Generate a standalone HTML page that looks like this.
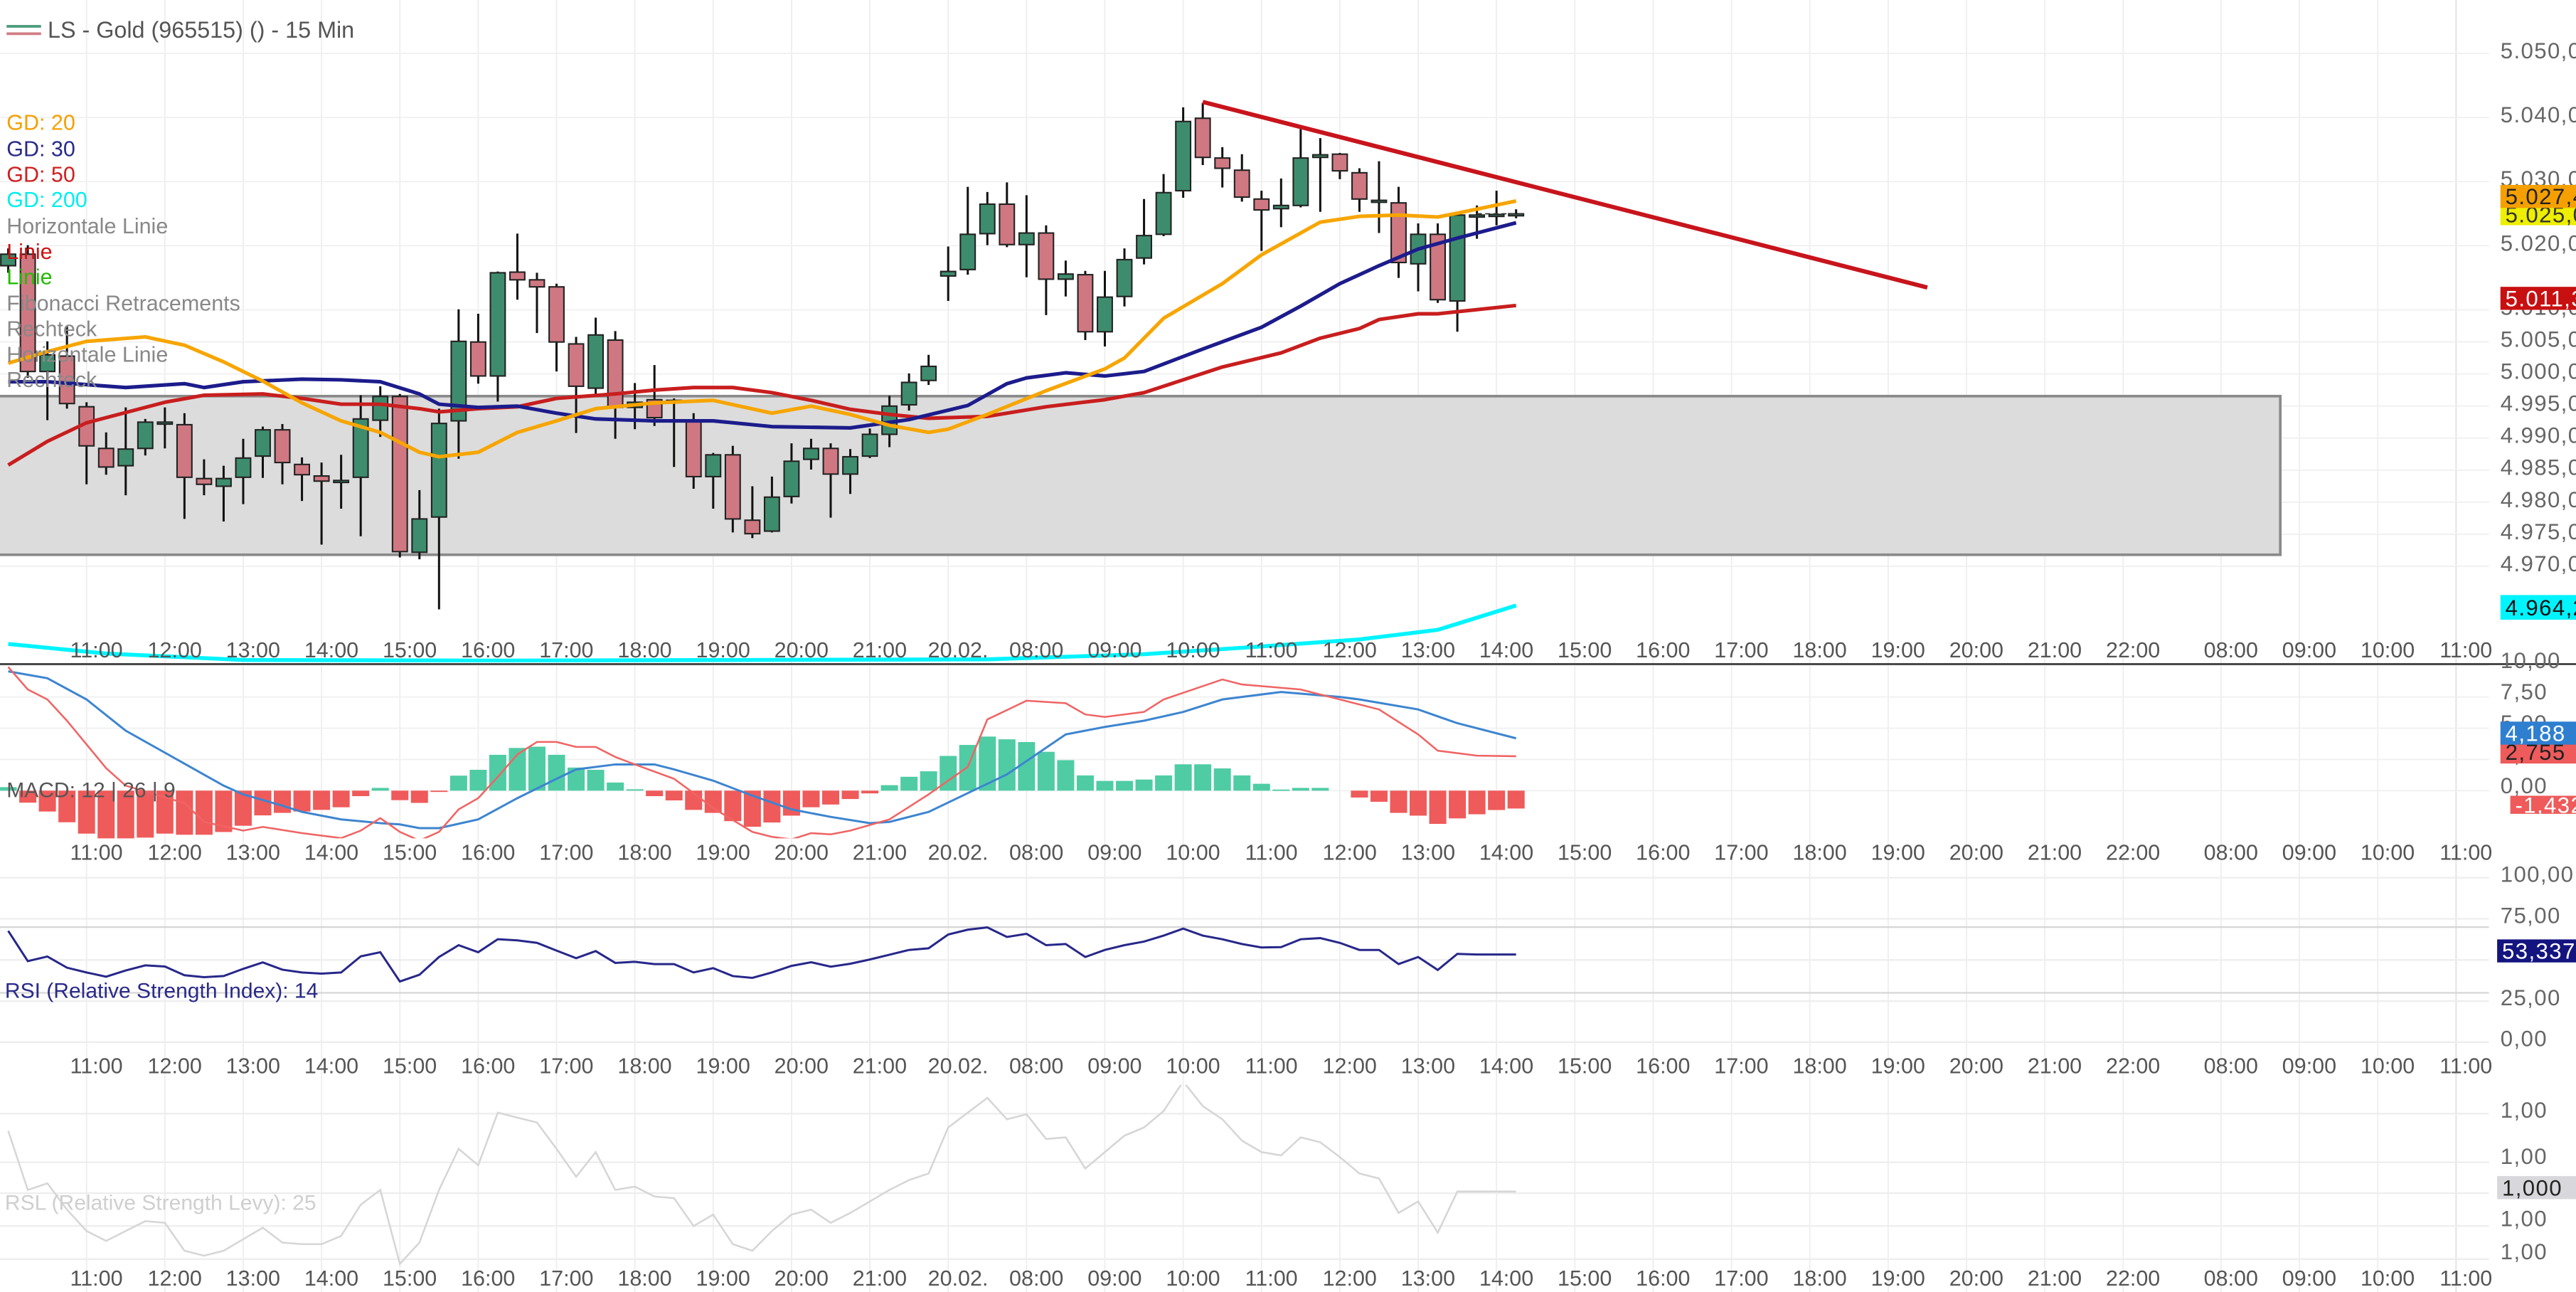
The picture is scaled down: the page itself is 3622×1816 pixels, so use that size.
<!DOCTYPE html>
<html><head><meta charset="utf-8"><title>LS - Gold 15 Min</title>
<style>
html,body{margin:0;padding:0;background:#fff;}
svg{display:block;font-family:"Liberation Sans",Arial,sans-serif;}
</style></head>
<body>
<svg id="chart" xmlns="http://www.w3.org/2000/svg" width="3622" height="1816" viewBox="0 0 1568 786" preserveAspectRatio="none">
  <defs>
    <clipPath id="clipMain"><rect x="0" y="0" width="1512" height="403"/></clipPath>
    <clipPath id="clipMacd"><rect x="0" y="405" width="1512" height="105"/></clipPath>
    <clipPath id="clipRsi"><rect x="0" y="528" width="1512" height="110"/></clipPath>
    <clipPath id="clipRsl"><rect x="0" y="660" width="1512" height="110"/></clipPath>
  </defs>
  <rect x="0" y="0" width="1568" height="786" fill="#ffffff"/>
  <g id="grid"></g>
  <g id="mainPanel" clip-path="url(#clipMain)">
    <rect x="-2" y="241" width="1390" height="96.5" fill="#dcdcdc" stroke="#8a8a8a" stroke-width="1.6"/>
  </g>
  <g id="macdPanel" clip-path="url(#clipMacd)"></g>
  <g id="rsiPanel" clip-path="url(#clipRsi)"></g>
  <g id="rslPanel" clip-path="url(#clipRsl)"></g>
  <line x1="0" y1="404" x2="1568" y2="404" stroke="#222" stroke-width="1"/>
  <g id="axes"></g>

  <g>
    <line x1="4" y1="16" x2="25" y2="16" stroke="#4a9a7a" stroke-width="1.6"/>
    <line x1="4" y1="20.5" x2="25" y2="20.5" stroke="#d07c84" stroke-width="1.6"/>
    <text x="29" y="23" font-size="14" fill="#555">LS - Gold (965515) () - 15 Min</text>
  </g>
  <g font-size="13.2">
    <text x="4" y="79" fill="#f5a000">GD: 20</text>
    <text x="4" y="95" fill="#2a2a8a">GD: 30</text>
    <text x="4" y="110.5" fill="#d02020">GD: 50</text>
    <text x="4" y="126" fill="#00eeee">GD: 200</text>
    <text x="4" y="142" fill="#888">Horizontale Linie</text>
    <text x="4" y="157.5" fill="#cc1111">Linie</text>
    <text x="4" y="173" fill="#22bb00">Linie</text>
    <text x="4" y="189" fill="#888">Fibonacci Retracements</text>
    <text x="4" y="204.5" fill="#888">Rechteck</text>
    <text x="4" y="220" fill="#888">Horizontale Linie</text>
    <text x="4" y="235.5" fill="#888">Rechteck</text>
  </g>
  <text x="4" y="485" font-size="13" fill="#555">MACD: 12 | 26 | 9</text>
  <text x="3" y="607" font-size="13" fill="#2a2a8a">RSI (Relative Strength Index): 14</text>
  <text x="3" y="736" font-size="13" fill="#cfcfcf">RSL (Relative Strength Levy): 25</text>
</svg>
<script>
// ---------- data ----------
const opens = [5016.5,5018.3,5000.0,5002.4,4994.5,4988.0,4985.3,4988.0,4992.1,4991.7,4983.3,4982.1,4983.5,4986.8,4990.9,4985.5,4983.7,4983.0,4983.5,4992.4,4996.1,4971.8,4977.3,4992.3,5004.6,4999.3,5015.5,5014.3,5013.2,5004.3,4997.4,5004.9,4994.4,4995.6,4995.5,4992.3,4983.6,4987.0,4976.8,4975.1,4980.5,4986.3,4988.0,4984.0,4986.8,4990.2,4994.8,4998.6,5014.9,5015.9,5021.5,5026.1,5019.8,5021.6,5014.4,5015.1,5006.2,5011.7,5017.7,5021.4,5028.2,5039.5,5033.3,5031.4,5026.9,5025.4,5025.9,5033.4,5033.9,5031.0,5026.7,5026.3,5016.8,5021.4,5011.0,5024.4,5024.5,5024.6];
const highs = [5019.2,5019.7,5004.7,5007.0,4995.2,4990.5,4994.4,4992.6,4994.4,4993.5,4986.3,4985.3,4989.5,4991.4,4991.8,4986.6,4985.8,4987.0,4996.3,4997.7,4996.5,4981.5,4994.2,5009.7,5009.0,5015.6,5021.5,5015.4,5013.7,5005.4,5008.4,5006.3,4998.2,5001.0,4995.8,4993.5,4987.3,4988.4,4982.1,4983.6,4988.8,4989.5,4988.8,4987.9,4991.1,4996.2,4999.7,5002.6,5019.5,5028.8,5028.0,5029.5,5027.5,5022.8,5017.3,5015.7,5015.7,5019.2,5026.9,5030.8,5041.2,5041.9,5035.0,5033.9,5028.2,5030.1,5037.8,5036.4,5034.1,5031.7,5032.8,5028.8,5023.1,5023.1,5024.4,5025.9,5028.2,5025.3];
const lows = [5015.4,4999.0,4992.4,4994.2,4982.4,4983.9,4980.7,4986.9,4988.0,4977.0,4980.7,4976.6,4979.3,4983.4,4982.4,4979.8,4973.0,4978.6,4974.3,4989.8,4971.0,4970.7,4962.9,4986.4,4998.1,4995.3,5011.2,5006.0,5000.0,4990.4,4996.5,4989.5,4991.0,4991.5,4985.1,4981.7,4978.6,4974.9,4974.0,4974.9,4979.4,4984.7,4977.2,4980.9,4986.5,4988.2,4993.9,4997.9,5011.0,5015.1,5019.7,5019.4,5014.7,5008.8,5011.7,5004.9,5003.9,5010.15,5016.7,5021.1,5027.1,5032.2,5028.7,5026.5,5018.8,5022.5,5025.6,5024.9,5030.0,5024.9,5021.6,5014.6,5012.5,5010.7,5006.2,5020.7,5022.8,5023.9];
const closes = [5018.3,5000.0,5002.6,4995.0,4988.4,4985.1,4987.9,4992.1,4992.1,4983.5,4982.4,4983.3,4986.5,4990.9,4985.8,4983.9,4982.9,4983.0,4992.6,4996.1,4971.9,4977.0,4991.9,5004.7,4999.3,5015.4,5014.3,5013.2,5004.6,4997.7,5005.7,4994.4,4995.2,4992.8,4995.5,4983.6,4987.0,4977.0,4974.7,4980.4,4986.0,4988.0,4984.0,4986.7,4990.2,4994.6,4998.3,5000.8,5015.6,5021.4,5026.1,5019.8,5021.6,5014.4,5015.2,5006.2,5011.6,5017.45,5021.2,5027.9,5039.0,5033.4,5031.7,5027.2,5025.2,5025.9,5033.3,5033.8,5031.3,5026.9,5026.7,5017.0,5021.4,5011.2,5024.4,5024.4,5024.5,5024.6];

const ma20Idx = [0,2,4,7,9,11,13,15,17,19,21,22,24,26,28,30,33,36,39,41,43,45,47,48,50,53,56,57,59,62,64,67,69,71,73,74,77];
const ma20 = [5001.3,5003.1,5004.7,5005.4,5004.1,5001.5,4998.5,4995.1,4992.3,4990.5,4987.4,4986.7,4987.4,4990.5,4992.3,4994.2,4995.1,4995.5,4993.5,4994.6,4993.3,4991.6,4990.5,4991.0,4993.3,4997.0,5000.4,5002.1,5008.3,5013.7,5018.2,5023.3,5024.2,5024.4,5024.1,5024.7,5026.6];
const ma30Idx = [0,2,6,9,10,12,15,17,19,21,22,24,26,28,30,33,36,39,43,46,49,51,52,54,56,58,61,64,66,68,70,72,74,77];
const ma30 = [4998.4,4998.4,4997.5,4998.1,4997.5,4998.4,4998.8,4998.7,4998.4,4996.5,4994.9,4994.4,4994.6,4993.5,4992.6,4992.3,4992.3,4991.4,4991.2,4992.5,4994.7,4998.1,4999.0,4999.8,4999.3,5000.0,5003.5,5006.9,5010.2,5013.7,5016.5,5019.1,5020.8,5023.2];
const ma50Idx = [0,2,4,6,8,10,13,15,17,19,21,22,24,26,28,31,33,35,37,39,41,43,45,47,50,53,56,58,60,62,65,67,69,70,72,73,77];
const ma50 = [4985.4,4989.1,4992.0,4993.6,4995.2,4996.3,4996.5,4995.8,4994.9,4994.9,4994.2,4993.7,4994.2,4994.5,4995.8,4996.5,4997.1,4997.5,4997.5,4996.7,4995.5,4994.1,4993.3,4992.7,4993.0,4994.5,4995.6,4996.7,4998.7,5000.7,5002.9,5005.2,5006.7,5008.1,5009.0,5009.0,5010.3];
const ma200Idx = [0,5,12,25,50,58,63,69,73,77];
const ma200 = [4957.5,4956.0,4955.0,4954.9,4955.1,4955.9,4956.9,4958.2,4959.7,4963.5];
const trendIdx = [61,98];
const trendPrice = [5042.05,5013.1];

const macdHist = [0.28,-0.96,-1.67,-2.53,-3.44,-4.11,-4.22,-3.76,-3.44,-3.53,-3.53,-3.31,-2.81,-1.98,-1.78,-1.67,-1.54,-1.33,-0.44,0.22,-0.76,-0.98,-0.09,1.20,1.67,2.87,3.42,3.52,2.87,1.85,1.67,0.65,0.11,-0.44,-0.78,-1.54,-1.78,-2.44,-2.89,-2.55,-2.00,-1.33,-1.11,-0.67,-0.22,0.44,1.11,1.55,2.78,3.66,4.33,4.11,3.89,3.11,2.44,1.22,0.78,0.78,0.89,1.22,2.11,2.11,1.78,1.22,0.55,0.09,0.22,0.22,0,-0.55,-0.89,-1.78,-2.00,-2.66,-2.22,-1.89,-1.55,-1.43];
const macdIdx = [0,2,4,6,11,12,14,15,17,19,20,21,22,24,26,28,29,31,33,34,36,38,40,42,44,45,47,49,51,54,56,58,60,62,65,68,69,72,74,77];
const macdLine = [9.55,9.0,7.3,4.8,0.4,-0.3,-1.2,-1.7,-2.3,-2.6,-2.7,-3.0,-3.0,-2.3,-0.6,0.95,1.7,2.1,2.1,1.7,0.8,-0.4,-1.5,-2.1,-2.6,-2.5,-1.7,-0.2,1.3,4.5,5.1,5.6,6.3,7.3,7.9,7.5,7.3,6.5,5.4,4.19];
const signalIdx = [0,1,2,3,5,6,9,10,12,13,15,17,18,19,20,21,22,23,24,25,26,27,28,29,30,31,32,34,35,36,38,39,40,41,42,43,45,47,49,50,52,54,55,56,58,59,62,63,66,68,70,72,73,75,77];
const signalLine = [9.9,8.1,7.3,5.6,1.8,0.4,-1.0,-2.5,-3.2,-2.9,-3.4,-3.8,-3.2,-2.2,-3.3,-4.0,-3.3,-1.5,-0.6,1.1,2.9,3.9,3.9,3.5,3.5,2.7,2.1,0.95,-0.2,-1.4,-3.3,-3.7,-3.9,-3.4,-3.5,-3.2,-2.3,-0.3,1.9,5.7,7.2,7.0,6.1,5.9,6.3,7.3,8.9,8.5,8.1,7.3,6.5,4.5,3.2,2.8,2.755];

const rsiValues = [67.7,49.3,52.1,45.3,42.4,39.8,43.6,46.7,46.0,40.7,39.5,40.2,44.6,48.5,44.1,42.4,41.7,42.4,52.2,54.7,36.9,41.0,51.8,59.0,54.7,62.6,61.9,60.4,55.7,51.1,55.4,48.2,48.9,47.5,47.5,42.4,45.0,40.2,39.1,42.4,46.4,48.6,45.9,47.7,50.3,53.2,56.1,57.1,65.5,68.4,69.8,64.0,65.9,59.0,59.7,51.8,56.1,59.0,61.2,64.8,69.1,64.8,62.6,59.7,57.6,57.8,62.6,63.3,60.4,56.1,56.1,47.5,51.8,43.9,53.7,53.3,53.3,53.3];
const rslValues = [1.0038,1.0002,1.0006,0.9990,0.9977,0.9971,0.9977,0.9983,0.9982,0.9965,0.9962,0.9965,0.9972,0.9979,0.9970,0.9969,0.9969,0.9974,0.9993,1.0002,0.9957,0.9970,1.0002,1.0027,1.0017,1.0049,1.0046,1.0043,1.0027,1.0010,1.0025,1.0002,1.0004,0.9998,0.9997,0.9980,0.9987,0.9969,0.9965,0.9977,0.9987,0.9990,0.9982,0.9988,0.9995,1.0002,1.0008,1.0012,1.0040,1.0049,1.0058,1.0045,1.0048,1.0033,1.0034,1.0015,1.0025,1.0035,1.0040,1.0050,1.0068,1.0053,1.0045,1.0032,1.0025,1.0023,1.0034,1.0031,1.0022,1.0012,1.0009,0.9988,0.9995,0.9976,1.0001,1.0001,1.0001,1.0001];

const timeTickIdx = [4,8,12,16,20,24,28,32,36,40,44,48,52,56,60,64,68,72,76,80,84,88,92,96,100,104,108,113,117,121,125];
const timeTickLabels = ["11:00","12:00","13:00","14:00","15:00","16:00","17:00","18:00","19:00","20:00","21:00","20.02.","08:00","09:00","10:00","11:00","12:00","13:00","14:00","15:00","16:00","17:00","18:00","19:00","20:00","21:00","22:00","08:00","09:00","10:00","11:00"];
const priceTicks = [5050,5040,5030,5020,5010,5005,5000,4995,4990,4985,4980,4975,4970];
const priceTickLabels = ["5.050,00","5.040,00","5.030,00","5.020,00","5.010,00","5.005,00","5.000,00","4.995,00","4.990,00","4.985,00","4.980,00","4.975,00","4.970,00"];
const macdTicks = [10,7.5,5,2.5,0];
const macdTickLabels = ["10,00","7,50","5,00","2,50","0,00"];
const rsiTicks = [100,75,25,0];
const rsiTickLabels = ["100,00","75,00","25,00","0,00"];

// ---------- scales ----------
const xI = i => 5 + 11.92 * i;
const yP = p => 148 + (5020 - p) * 3.9;
const yM = v => 481 - v * 7.6;
const yR = v => 634 - v * 1.0;
const yL = v => 725.9 - (v - 1) * 10000;

const NS = 'http://www.w3.org/2000/svg';
function mk(tag, parent){ const e = document.createElementNS(NS, tag); parent.appendChild(e); return e; }
function set(e, o){ for (const k in o) e.setAttribute(k, o[k]); }
function pathFrom(idx, vals, ys){ return idx.map((i,k)=> (k?'L':'M') + xI(i).toFixed(2) + ' ' + ys(vals[k]).toFixed(2)).join(' '); }

const grid = document.getElementById('grid');
const main = document.getElementById('mainPanel');
const macdG = document.getElementById('macdPanel');
const rsiG = document.getElementById('rsiPanel');
const rslG = document.getElementById('rslPanel');
const axes = document.getElementById('axes');

timeTickIdx.forEach((ti) => {
  const gl = mk('line', grid);
  set(gl, {x1:xI(ti), x2:xI(ti), y1:0, y2:786, stroke:'#eeeeee', 'stroke-width':0.8});
  
  
});
const vsep = mk('line', grid);
set(vsep, {x1:1495, x2:1495, y1:0, y2:786, stroke:'#e6e6e6', 'stroke-width':1});



priceTicks.forEach((p, k) => {
  const gl = mk('line', grid);
  set(gl, {x1:0, x2:1515, y1:yP(p)+1.5, y2:yP(p)+1.5, stroke:'#f0f0f0', 'stroke-width':0.8});
  
  
  const t = mk('text', axes);
  set(t, {x:1522, y:yP(p)+4.5, 'font-size':13.5, fill:'#666', 'letter-spacing':'0.6'});
  t.textContent = priceTickLabels[k];
  
  
});
macdTicks.forEach((v, k) => {
  const gl = mk('line', grid);
  set(gl, {x1:0, x2:1515, y1:yM(v), y2:yM(v), stroke:'#f0f0f0', 'stroke-width':0.8});
  
  
  const t = mk('text', axes);
  set(t, {x:1522, y:yM(v)+1.5, 'font-size':13.5, fill:'#666', 'letter-spacing':'0.6'});
  t.textContent = macdTickLabels[k];
  
  
});
[[100,'#eeeeee'],[75,'#eeeeee'],[70,'#d6d6d6'],[50,'#eeeeee'],[30,'#d6d6d6'],[25,'#eeeeee'],[0,'#eeeeee']].forEach(g => {
  const gl = mk('line', grid);
  set(gl, {x1:0, x2:1515, y1:yR(g[0]), y2:yR(g[0]), stroke:g[1], 'stroke-width':1});
  
  
});
rsiTicks.forEach((v, k) => {
  const t = mk('text', axes);
  set(t, {x:1522, y:yR(v)+2.5, 'font-size':13.5, fill:'#666', 'letter-spacing':'0.6'});
  t.textContent = rsiTickLabels[k];
  
  
});
[677.5,707.1,725.9,745.8,766].forEach(y => {
  const gl = mk('line', grid);
  set(gl, {x1:0, x2:1515, y1:y, y2:y, stroke:'#eeeeee', 'stroke-width':1});
  
  
});
[680,708,746,766].forEach(y => {
  const t = mk('text', axes);
  set(t, {x:1522, y:y, 'font-size':13.5, fill:'#666', 'letter-spacing':'0.6'});
  t.textContent = '1,00';
  
  
});

[400, 523, 653, 782].forEach(yb => {
  timeTickIdx.forEach((ti, k) => {
    const t = mk('text', axes);
    set(t, {x:xI(ti)+6, y:yb, 'font-size':13.2, fill:'#555', 'text-anchor':'middle'});
    t.textContent = timeTickLabels[k];
    
    
  });
});

// moving average 200 below candles region
const c200 = mk('path', main);
set(c200, {d:pathFrom(ma200Idx, ma200, yP), fill:'none', stroke:'#00f4ff', 'stroke-width':2.4, 'stroke-linejoin':'round'});



// ---------- candles ----------
opens.forEach((o, i) => {
  const c = closes[i], up = c >= o;
  const g = mk('g', main);
  
  
  const w = mk('line', g);
  set(w, {x1:xI(i), x2:xI(i), y1:yP(highs[i]), y2:yP(lows[i]), stroke:'#111', 'stroke-width':1.3});
  
  
  const top = yP(Math.max(o,c)), bot = yP(Math.min(o,c));
  const b = mk('rect', g);
  set(b, {x:xI(i)-4.5, y:top, width:9, height:Math.max(bot-top,1.2), fill: up ? '#3e8c6e' : '#cf7882', stroke:'#222', 'stroke-width':0.9});
  
  
});

[[ma50Idx, ma50, '#c81e1e', 'ma50-line'], [ma30Idx, ma30, '#1c1c8c', 'ma30-line'], [ma20Idx, ma20, '#f7a500', 'ma20-line']].forEach(s => {
  const p = mk('path', main);
  set(p, {d:pathFrom(s[0], s[1], yP), fill:'none', stroke:s[2], 'stroke-width':2.2, 'stroke-linejoin':'round'});
  
  
});
const tl = mk('path', main);
set(tl, {d:pathFrom(trendIdx, trendPrice, yP), fill:'none', stroke:'#c8141c', 'stroke-width':2.6});


const dl = mk('line', main);
set(dl, {x1:xI(75), x2:xI(77)+6, y1:yP(closes[77]), y2:yP(closes[77]), stroke:'#333', 'stroke-width':0.8, 'stroke-dasharray':'3 2'});



// ---------- MACD ----------
macdHist.forEach((v, i) => {
  if (v === 0) return;
  const r = mk('rect', macdG);
  const y0 = yM(0), y1 = yM(v);
  set(r, {x:xI(i)-5.2, y:Math.min(y0,y1), width:10.4, height:Math.max(Math.abs(y1-y0),0.8), fill: v > 0 ? '#4fcca4' : '#ef5a5a'});
  
  
});
const ml = mk('path', macdG);
set(ml, {d:pathFrom(macdIdx, macdLine, yM), fill:'none', stroke:'#3d85d0', 'stroke-width':1.3});


const sl = mk('path', macdG);
set(sl, {d:pathFrom(signalIdx, signalLine, yM), fill:'none', stroke:'#f06464', 'stroke-width':1.1});



// ---------- RSI / RSL ----------
const allIdx = rsiValues.map((_, i) => i);
const rl = mk('path', rsiG);
set(rl, {d:pathFrom(allIdx, rsiValues, yR), fill:'none', stroke:'#27278a', 'stroke-width':1.3});


const ll = mk('path', rslG);
set(ll, {d:pathFrom(rslValues.map((_, i) => i), rslValues, yL), fill:'none', stroke:'#d6d6d6', 'stroke-width':1.1});



// ---------- value badges ----------
function badge(y, h, bg, fg, txt, x, name){
  const g = mk('g', axes);
  
  
  const r = mk('rect', g);
  set(r, {x:x, y:y-h/2, width:1568-x, height:h, fill:bg});
  
  
  const t = mk('text', g);
  set(t, {x:x+3, y:y+4.8, 'font-size':13.5, fill:fg, 'letter-spacing':'0.6'});
  t.textContent = txt;
  
  
}
badge(130.5, 13, '#eeee00', '#333', '5.025,00', 1522, 'last-price-badge');
badge(119.5, 14, '#f5a000', '#222', '5.027,40', 1522, 'ma20-badge');
badge(181.5, 14, '#c81010', '#fff', '5.011,30', 1522, 'ma50-badge');
badge(369.5, 15, '#00f4ff', '#111', '4.964,20', 1522, 'ma200-badge');
badge(457.5, 14, '#ef5a5a', '#222', '2,755', 1522, 'signal-badge');
badge(446, 14, '#2f7fd0', '#fff', '4,188', 1522, 'macd-badge');
badge(489.6, 11, '#ef5a5a', '#fff', '-1,43252', 1528, 'histogram-badge');
badge(578.5, 14, '#141480', '#fff', '53,337', 1520, 'rsi-badge');
badge(722.5, 14, '#d8d8dc', '#222', '1,000', 1520, 'rsl-badge');
</script>
</body></html>
